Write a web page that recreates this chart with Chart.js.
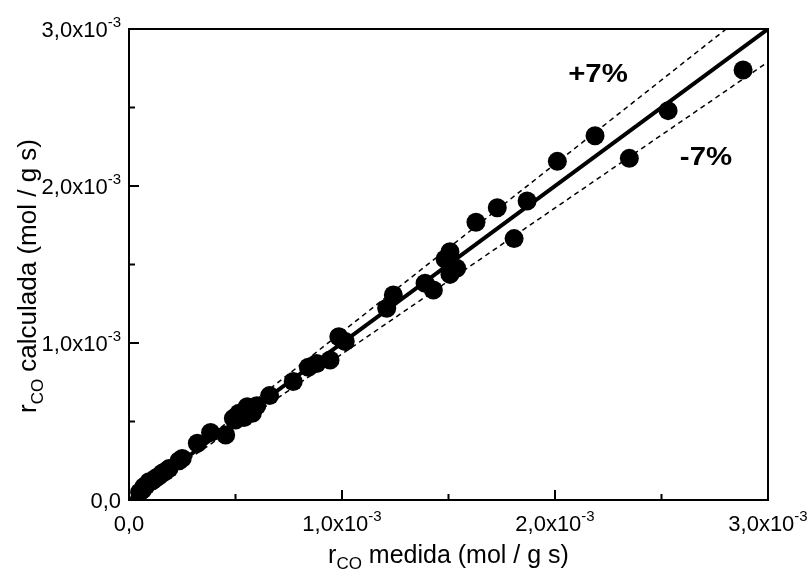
<!DOCTYPE html>
<html>
<head>
<meta charset="utf-8">
<script src="https://cdn.jsdelivr.net/npm/chart.js@4/dist/chart.umd.min.js"></script>
<style>
html,body{margin:0;padding:0;background:#fff;}
#wrap{width:812px;height:573px;}
</style>
</head>
<body>
<div id="wrap"><canvas id="c" width="812" height="573"></canvas></div>
<script>
// measured r_CO (mol / g s) -- x
const medida = [
  0.000050,0.000063,0.000070,0.000080,0.000094,0.000110,0.000125,0.000140,0.000156,0.000170,0.000188,
  0.000235,0.000250,0.000321,0.000383,0.000454,
  0.000490,0.000500,0.000516,0.000540,0.000555,0.000579,0.000600,
  0.000660,0.000771,0.000842,0.000881,0.000944,0.000985,0.001015,
  0.001210,0.001241,0.001390,0.001429,0.001484,0.001507,0.001538,0.001507,
  0.001629,0.001729,0.001808,0.001869,0.002011,0.002188,0.002349,0.002531,0.002883
];
// calculated r_CO (mol / g s) -- y
const calculada = [
  0.000050,0.000064,0.000085,0.000092,0.000117,0.000122,0.000138,0.000152,0.000170,0.000182,0.000200,
  0.000250,0.000265,0.000361,0.000430,0.000414,
  0.000520,0.000510,0.000552,0.000525,0.000594,0.000552,0.000600,
  0.000665,0.000754,0.000845,0.000870,0.000892,0.001040,0.001010,
  0.001221,0.001306,0.001380,0.001338,0.001535,0.001582,0.001476,0.001437,
  0.001769,0.001862,0.001665,0.001905,0.002157,0.002320,0.002176,0.002480,0.002739
];
// reference lines: y = x and the +7% / -7% bands (end points)
const idealLine = [[0,0],[0.003,0.003]];
const upperBand = [[0,0],[0.0028037,0.003]];
const lowerBand = [[0,0],[0.003,0.00279]];
// axis ticks
const tickValues = [0, 0.001, 0.002, 0.003];
const minorTickValues = [0.0005, 0.0015, 0.0025];
const tickMain = ['0,0','1,0x10','2,0x10','3,0x10'];
const tickExp = ['','-3','-3','-3'];
const bandLabels = ['+7%','-7%'];
const bandLabelPos = [[0.0022019,0.0027070],[0.0027089,0.0021783]];

const FONT = '"Liberation Sans", Arial, Helvetica, sans-serif';

function toXY(arr){ return arr.map(p=>({x:p[0],y:p[1]})); }

const overlay = {
  id:'overlay',
  afterDraw(chart){
    const ctx = chart.ctx, ca = chart.chartArea;
    const xs = chart.scales.x, ys = chart.scales.y;
    ctx.save();
    // frame
    ctx.strokeStyle = '#000'; ctx.lineWidth = 2;
    ctx.strokeRect(ca.left, ca.top, ca.right-ca.left, ca.bottom-ca.top);
    // ticks (inward, bottom and left only)
    ctx.beginPath();
    tickValues.forEach(v=>{
      const px = xs.getPixelForValue(v); ctx.moveTo(px, ca.bottom); ctx.lineTo(px, ca.bottom-10);
      const py = ys.getPixelForValue(v); ctx.moveTo(ca.left, py); ctx.lineTo(ca.left+10, py);
    });
    minorTickValues.forEach(v=>{
      const px = xs.getPixelForValue(v); ctx.moveTo(px, ca.bottom); ctx.lineTo(px, ca.bottom-6);
      const py = ys.getPixelForValue(v); ctx.moveTo(ca.left, py); ctx.lineTo(ca.left+6, py);
    });
    ctx.stroke();
    // tick labels
    ctx.fillStyle = '#000';
    const mainF = '22px '+FONT, supF = '15px '+FONT;
    ctx.textBaseline = 'alphabetic';
    tickValues.forEach((v,i)=>{
      ctx.font = mainF; const wm = ctx.measureText(tickMain[i]).width;
      ctx.font = supF; const we = tickExp[i] ? ctx.measureText(tickExp[i]).width : 0;
      const w = wm + we;
      let px = xs.getPixelForValue(v) - w/2, base = ca.bottom + 31;
      ctx.font = mainF; ctx.textAlign='left'; ctx.fillText(tickMain[i], px, base);
      if (we){ ctx.font = supF; ctx.fillText(tickExp[i], px+wm, base-10); }
      const py = ys.getPixelForValue(v);
      px = ca.left - 8 - w; base = py + 8;
      ctx.font = mainF; ctx.fillText(tickMain[i], px, base);
      if (we){ ctx.font = supF; ctx.fillText(tickExp[i], px+wm, base-10); }
    });
    // axis titles with subscript
    function titleParts(rest, size){
      const sub = Math.round(size*0.66);
      return [['r',size+'px '+FONT,0],['CO',sub+'px '+FONT,Math.round(size*0.25)],[rest,size+'px '+FONT,0]];
    }
    function drawParts(parts, cx, base){
      let total = 0;
      parts.forEach(p=>{ ctx.font=p[1]; total += ctx.measureText(p[0]).width; });
      let x = cx - total/2;
      parts.forEach(p=>{ ctx.font=p[1]; ctx.fillText(p[0], x, base+p[2]); x += ctx.measureText(p[0]).width; });
    }
    ctx.textAlign='left';
    drawParts(titleParts(' medida (mol / g s)', 25), (ca.left+ca.right)/2, 563);
    ctx.save();
    ctx.translate(36, 276); ctx.rotate(-Math.PI/2);
    drawParts(titleParts(' calculada (mol / g s)', 26), 0, 0);
    ctx.restore();
    // band labels
    ctx.font = 'bold 26px '+FONT;
    ctx.textAlign='center'; ctx.textBaseline='middle';
    bandLabels.forEach((t,i)=>{
      ctx.save();
      ctx.translate(xs.getPixelForValue(bandLabelPos[i][0]), ys.getPixelForValue(bandLabelPos[i][1]));
      ctx.scale(1.13, 1);
      ctx.fillText(t, 0, 0);
      ctx.restore();
    });
    ctx.restore();
  }
};

new Chart(document.getElementById('c'), {
  type:'scatter',
  data:{
    datasets:[
      {type:'line', data:toXY(upperBand), borderColor:'#000', borderWidth:1.5, borderDash:[5,4], pointRadius:0, fill:false, order:3},
      {type:'line', data:toXY(lowerBand), borderColor:'#000', borderWidth:1.5, borderDash:[5,4], pointRadius:0, fill:false, order:3},
      {type:'line', data:toXY(idealLine), borderColor:'#000', borderWidth:4, pointRadius:0, fill:false, order:2},
      {data: medida.map((x,i)=>({x:x, y:calculada[i]})), backgroundColor:'#000', borderColor:'#000', pointRadius:9.5, pointHoverRadius:9.5, borderWidth:0, order:1}
    ]
  },
  options:{
    responsive:false, animation:false, devicePixelRatio:1,
    layout:{padding:{left:129, right:44, top:29, bottom:73}},
    plugins:{legend:{display:false}, tooltip:{enabled:false}},
    scales:{
      x:{type:'linear', min:0, max:0.003, display:false},
      y:{type:'linear', min:0, max:0.003, display:false}
    }
  },
  plugins:[overlay]
});
</script>
</body>
</html>
